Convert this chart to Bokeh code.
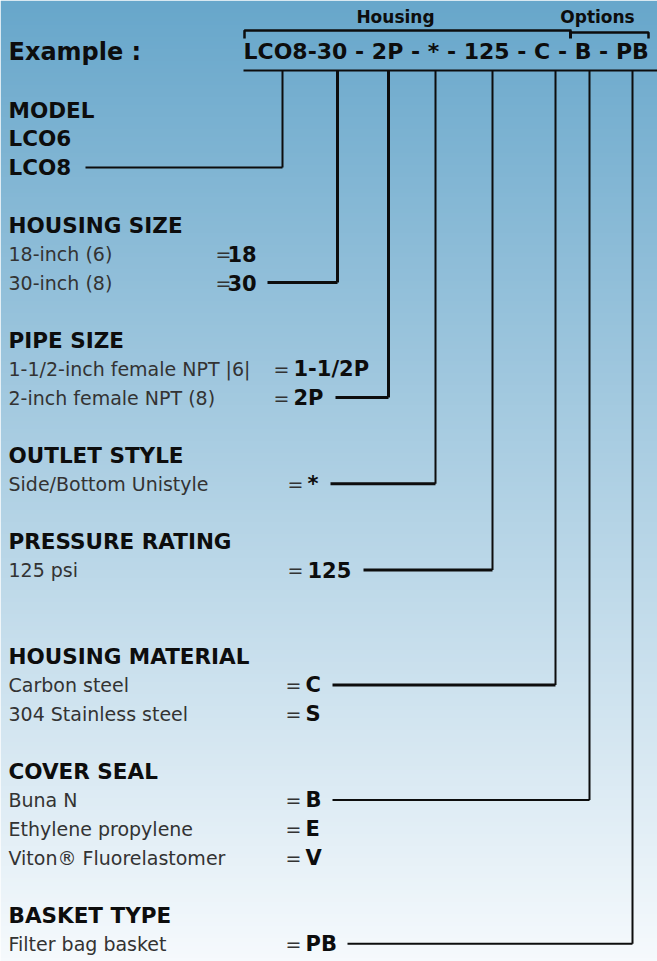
import numpy as np
from bokeh.plotting import figure
from bokeh.models import Range1d
from bokeh.core.properties import value
from bokeh.embed import file_html
from bokeh.resources import INLINE

# ---------------- data ----------------
example_label = "Example :"
example_code = "LCO8-30 - 2P - * - 125 - C - B - PB"
group_labels = ["Housing", "Options"]

section_titles = ["MODEL", "HOUSING SIZE", "PIPE SIZE", "OUTLET STYLE",
                  "PRESSURE RATING", "HOUSING MATERIAL", "COVER SEAL", "BASKET TYPE"]
model_items = ["LCO6", "LCO8"]
housing_size_items = ["18-inch (6)", "30-inch (8)"]
housing_size_codes = ["18", "30"]
pipe_items = ["1-1/2-inch female NPT |6|", "2-inch female NPT (8)"]
pipe_codes = ["1-1/2P", "2P"]
outlet_items = ["Side/Bottom Unistyle"]
outlet_codes = ["*"]
pressure_items = ["125 psi"]
pressure_codes = ["125"]
material_items = ["Carbon steel", "304 Stainless steel"]
material_codes = ["C", "S"]
seal_items = ["Buna N", "Ethylene propylene", "Viton\u00ae Fluorelastomer"]
seal_codes = ["B", "E", "V"]
basket_items = ["Filter bag basket"]
basket_codes = ["PB"]
selected_codes = ["LCO8", "30", "2P", "*", "125", "C", "B", "PB"]

# ---------------- layout / style ----------------
FONT = value("DejaVu Sans")
W, H = 657, 961
ROW0, PITCH = 109.5, 28.75
heading_slots = [0, 4, 8, 12, 15, 19, 23, 28]
eq_x = [None, 215, 273, 287, 287, 285, 285, 285]
code_x = [None, 227, 293, 307, 307, 305, 305, 305]
line_start_x = [85, 267, 335, 330, 363, 332, 332, 347]
column_x = [282, 337, 388, 435, 492, 555, 589, 632]
h_width = [2, 3, 3, 3, 3, 3, 2, 2]
v_width = [2, 3, 3, 2, 2, 2, 2, 2]
RULE_Y = 70

def slot_y(s):
    return ROW0 + PITCH * s

p = figure(width=W, height=H, output_backend="svg", toolbar_location=None,
           x_range=Range1d(0, W), y_range=Range1d(H, 0), min_border=0)
p.axis.visible = False
p.grid.visible = False
p.outline_line_color = None

# background gradient (style)
top = np.array([104, 167, 203])
bot = np.array([246, 250, 253])
n = 240
t = np.linspace(0, 1, n)[:, None]
cols = (top[None, :] * (1 - t) + bot[None, :] * t).astype(np.uint32)
rgba = (np.uint32(255) << 24) | (cols[:, 2] << 16) | (cols[:, 1] << 8) | cols[:, 0]
img = np.repeat(rgba[:, None], 4, axis=1).astype(np.uint32)
p.image_rgba(image=[img], x=0, y=0, dw=W, dh=H)

# header
p.text(x=[8], y=[51], text=[example_label], text_font=FONT, text_font_style="bold",
       text_font_size="24px", text_baseline="middle", text_color="#0d0d0d")
p.text(x=[243], y=[51], text=[example_code], text_font=FONT, text_font_style="bold",
       text_font_size="22px", text_baseline="middle", text_color="#0d0d0d")
p.text(x=[395, 597], y=[16, 16], text=group_labels, text_font=FONT, text_font_style="bold",
       text_font_size="17px", text_baseline="middle", text_align="center", text_color="#0d0d0d")
# brackets
p.multi_line(xs=[[244, 244, 571], [571, 648, 648]], ys=[[38, 30, 30], [32, 32, 38]],
             line_color="#0d0d0d", line_width=2.5)
p.line(x=[570, 570], y=[30, 38], line_color="#0d0d0d", line_width=3)
p.line(x=[243, W], y=[RULE_Y, RULE_Y], line_color="#0d0d0d", line_width=2)

# sections
items_by_section = [model_items, housing_size_items, pipe_items, outlet_items,
                    pressure_items, material_items, seal_items, basket_items]
codes_by_section = [model_items, housing_size_codes, pipe_codes, outlet_codes,
                    pressure_codes, material_codes, seal_codes, basket_codes]

hx, hy, ht = [], [], []
bx, by, bt = [], [], []
rx, ry, rt = [], [], []
ex, ey = [], []
cx, cy, ct = [], [], []
conn_xs, conn_ys = [], []
for i, title in enumerate(section_titles):
    s = heading_slots[i]
    hx.append(8); hy.append(slot_y(s)); ht.append(title)
    for j, item in enumerate(items_by_section[i]):
        y = slot_y(s + 1 + j)
        if i == 0:
            bx.append(8); by.append(y); bt.append(item)
        else:
            rx.append(8); ry.append(y); rt.append(item)
            ex.append(eq_x[i]); ey.append(y)
            cx.append(code_x[i]); cy.append(y); ct.append(codes_by_section[i][j])
        if codes_by_section[i][j] == selected_codes[i]:
            conn_xs.append(([line_start_x[i], column_x[i]], [column_x[i], column_x[i]]))
            conn_ys.append(([y, y], [y, RULE_Y]))

p.text(x=hx, y=hy, text=ht, text_font=FONT, text_font_style="bold", text_font_size="21.5px",
       text_baseline="middle", text_color="#0d0d0d")
p.text(x=bx, y=by, text=bt, text_font=FONT, text_font_style="bold", text_font_size="21.5px",
       text_baseline="middle", text_color="#0d0d0d")
p.text(x=rx, y=ry, text=rt, text_font=FONT, text_font_size="19px",
       text_baseline="middle", text_color="#333333")
p.text(x=ex, y=ey, text=["="] * len(ex), text_font=FONT, text_font_size="19px",
       text_baseline="middle", text_color="#333333")
p.text(x=cx, y=cy, text=ct, text_font=FONT, text_font_style="bold", text_font_size="21px",
       text_baseline="middle", text_color="#0d0d0d")

for k, (xs, ys) in enumerate(zip(conn_xs, conn_ys)):
    p.line(x=xs[0], y=ys[0], line_color="#0d0d0d", line_width=h_width[k])
    p.line(x=xs[1], y=ys[1], line_color="#0d0d0d", line_width=v_width[k])

open("out.html", "w").write(file_html(p, INLINE))
